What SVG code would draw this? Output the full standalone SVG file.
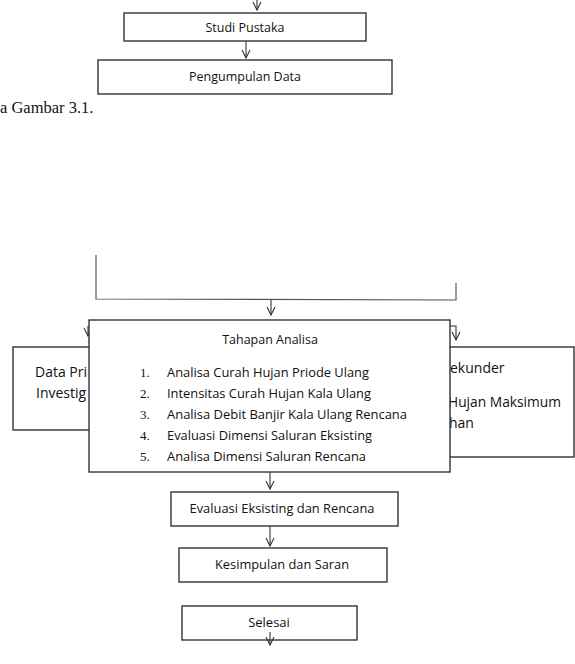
<svg xmlns="http://www.w3.org/2000/svg" width="575" height="664" viewBox="0 0 575 664">
<style>
.box{fill:#fff;stroke:#333;stroke-width:1.4}
.t{font-family:"Open Sans","Liberation Sans",sans-serif;fill:#111}
.s{font-family:"Liberation Serif",serif;fill:#111}
.ln{fill:none;stroke:#555;stroke-width:1.2}
.ar{fill:none;stroke:#333;stroke-width:1.1}
</style>
<defs>
<marker id="v" viewBox="-10 -6 12 12" refX="0" refY="0" markerWidth="12" markerHeight="12" markerUnits="userSpaceOnUse" orient="auto">
<path d="M-8,-4 L0,0 L-8,4" fill="none" stroke="#333" stroke-width="1.1"/>
</marker>
</defs>
<text class="s" x="0" y="113" font-size="16.5">a Gambar 3.1.</text>
<g id="connectors">
<line class="ar" x1="257" y1="0" x2="257" y2="10" marker-end="url(#v)"/>
<line class="ar" x1="246" y1="41" x2="246" y2="58" marker-end="url(#v)"/>
<polyline class="ln" points="96,255 96,299 456,300 456,283"/>
<line class="ar" x1="271" y1="300" x2="271" y2="315" marker-end="url(#v)"/>
<line class="ar" x1="88" y1="326" x2="88" y2="336" marker-end="url(#v)"/>
<polyline class="ar" points="450,326 456,326 456,340" marker-end="url(#v)"/>
<line class="ar" x1="270" y1="472" x2="270" y2="489" marker-end="url(#v)"/>
<line class="ar" x1="270" y1="526" x2="270" y2="546" marker-end="url(#v)"/>
</g>
<g id="studi">
<rect class="box" x="124" y="13" width="242" height="28"/>
<text class="t" x="245" y="32" font-size="12.5" text-anchor="middle">Studi Pustaka</text>
</g>
<g id="pengumpulan">
<rect class="box" x="98" y="60" width="294" height="34"/>
<text class="t" x="245" y="81" font-size="12.5" text-anchor="middle">Pengumpulan Data</text>
</g>
<g id="primer">
<rect class="box" x="13" y="347" width="90" height="83"/>
<text class="t" x="35" y="377" font-size="14">Data Pri</text>
<text class="t" x="36" y="398" font-size="14">Investig</text>
</g>
<g id="sekunder">
<rect class="box" x="430" y="347" width="144" height="110"/>
<text class="t" x="450" y="373" font-size="14">ekunder</text>
<text class="t" x="448" y="407" font-size="14" textLength="113" lengthAdjust="spacingAndGlyphs">Hujan Maksimum</text>
<text class="t" x="449" y="428" font-size="14">han</text>
</g>
<g id="tahapan">
<rect class="box" x="89" y="320" width="361" height="152"/>
<text class="t" x="270" y="344" font-size="12.5" text-anchor="middle">Tahapan Analisa</text>
<text class="s" x="140" y="377" font-size="13">1.</text>
<text class="s" x="140" y="398" font-size="13">2.</text>
<text class="s" x="140" y="419" font-size="13">3.</text>
<text class="s" x="140" y="440" font-size="13">4.</text>
<text class="s" x="140" y="461" font-size="13">5.</text>
<text class="t" x="167" y="377" font-size="12.5" textLength="202" lengthAdjust="spacingAndGlyphs">Analisa Curah Hujan Priode Ulang</text>
<text class="t" x="167" y="398" font-size="12.5" textLength="204" lengthAdjust="spacingAndGlyphs">Intensitas Curah Hujan Kala Ulang</text>
<text class="t" x="167" y="419" font-size="12.5" textLength="240" lengthAdjust="spacingAndGlyphs">Analisa Debit Banjir Kala Ulang Rencana</text>
<text class="t" x="167" y="440" font-size="12.5" textLength="205" lengthAdjust="spacingAndGlyphs">Evaluasi Dimensi Saluran Eksisting</text>
<text class="t" x="167" y="461" font-size="12.5" textLength="199" lengthAdjust="spacingAndGlyphs">Analisa Dimensi Saluran Rencana</text>
</g>
<g id="evaluasi">
<rect class="box" x="171" y="492" width="227" height="34"/>
<text class="t" x="282" y="513" font-size="13" text-anchor="middle" textLength="185" lengthAdjust="spacingAndGlyphs">Evaluasi Eksisting dan Rencana</text>
</g>
<g id="kesimpulan">
<rect class="box" x="179" y="548" width="208" height="34"/>
<text class="t" x="282" y="569" font-size="13" text-anchor="middle" textLength="134" lengthAdjust="spacingAndGlyphs">Kesimpulan dan Saran</text>
</g>
<g id="selesai">
<rect class="box" x="182" y="606" width="175" height="34"/>
<text class="t" x="269" y="627" font-size="13" text-anchor="middle">Selesai</text>
<line class="ar" x1="270" y1="632" x2="270" y2="645" marker-end="url(#v)"/>
</g>
</svg>
